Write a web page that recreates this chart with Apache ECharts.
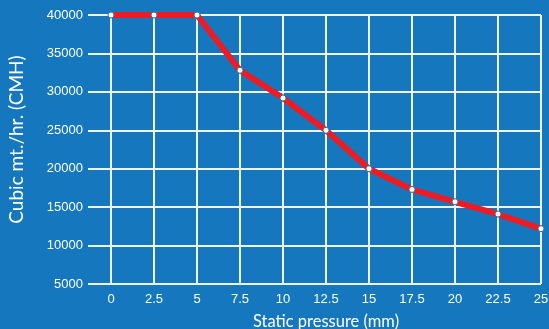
<!DOCTYPE html>
<html><head><meta charset="utf-8">
<script src="https://cdn.jsdelivr.net/npm/echarts@6/dist/echarts.min.js"></script>
<style>html,body{margin:0;padding:0;background:#1577bd;}#c{width:549px;height:329px;}</style>
</head><body><div id="c"></div>
<script>
const pressure = [0, 2.5, 5, 7.5, 10, 12.5, 15, 17.5, 20, 22.5, 25];
const airflow = [40000, 40000, 40000, 32800, 29200, 25000, 20000, 17300, 15700, 14100, 12200];
const xTitle = 'Static pressure (mm)';
const yTitle = 'Cubic mt./hr. (CMH)';

const chart = echarts.init(document.getElementById('c'));
chart.setOption({
  backgroundColor: '#1577bd',
  animation: false,
  grid: { left: 111, right: 8, top: 15, bottom: 45, containLabel: false, outerBoundsMode: 'none' },
  xAxis: {
    type: 'value', min: 0, max: 25, interval: 2.5,
    name: xTitle, nameLocation: 'middle', nameGap: 29,
    nameTextStyle: { color: '#fff', fontSize: 16.5, fontFamily: 'Lato' },
    axisLine: { show: false }, axisTick: { show: false },
    axisLabel: { color: '#fff', fontSize: 13, fontFamily: 'Liberation Sans', margin: 9 },
    splitLine: { show: true, lineStyle: { color: '#eef3f8', width: 2 } }
  },
  yAxis: {
    type: 'value', min: 5000, max: 40000, interval: 5000,
    name: yTitle, nameLocation: 'middle', nameGap: 85, nameRotate: 90,
    nameTextStyle: { color: '#fff', fontSize: 19, fontFamily: 'Lato', padding: [0, 0, 0, 20] },
    axisLine: { show: false },
    axisTick: { show: true, length: 23, lineStyle: { color: '#eef3f8', width: 2 } },
    axisLabel: { color: '#fff', fontSize: 13, fontFamily: 'Liberation Sans', margin: 28,
                 formatter: v => String(v) },
    splitLine: { show: true, lineStyle: { color: '#eef3f8', width: 2 } }
  },
  series: [{
    type: 'line',
    data: pressure.map((p, i) => [p, airflow[i]]),
    lineStyle: { color: '#ed1c24', width: 6 },
    itemStyle: { color: '#ffffff', borderColor: '#3a6f96', borderWidth: 1 },
    symbol: 'circle', symbolSize: 6,
    z: 3
  }]
});
</script></body></html>
